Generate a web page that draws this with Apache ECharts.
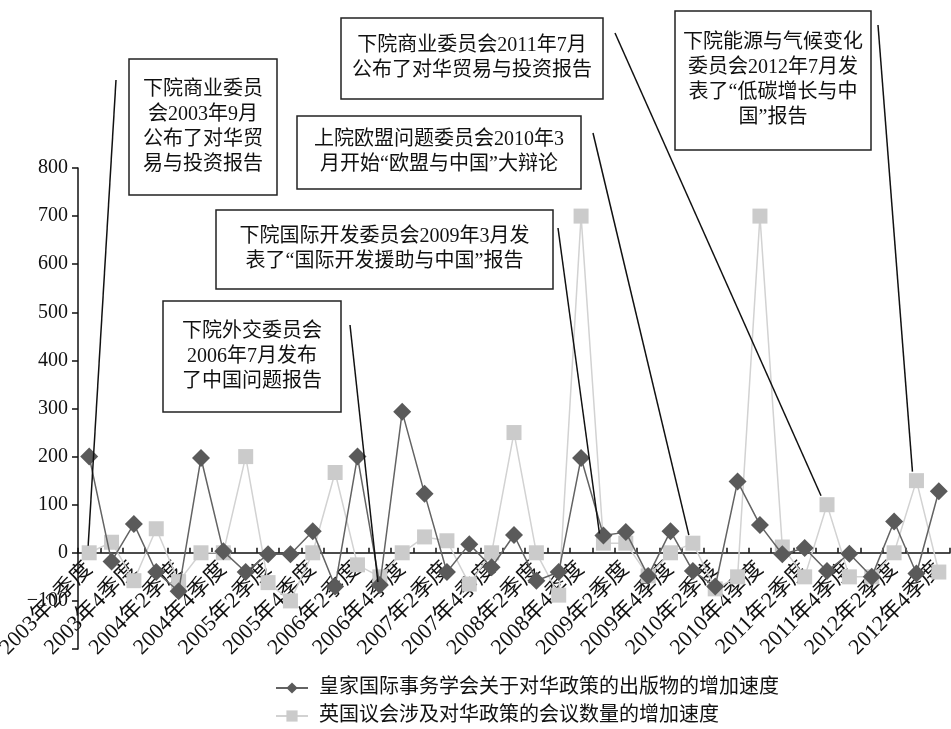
<!DOCTYPE html>
<html>
<head>
<meta charset="utf-8">
<script src="https://cdn.jsdelivr.net/npm/echarts@6/dist/echarts.min.js"></script>
<style>
html,body{margin:0;padding:0;background:#fff;}
#chart{width:951px;height:729px;}
</style>
</head>
<body>
<div id="chart"></div>
<script>
var categories = [
  '2003年2季度','2003年3季度','2003年4季度',
  '2004年1季度','2004年2季度','2004年3季度','2004年4季度',
  '2005年1季度','2005年2季度','2005年3季度','2005年4季度',
  '2006年1季度','2006年2季度','2006年3季度','2006年4季度',
  '2007年1季度','2007年2季度','2007年3季度','2007年4季度',
  '2008年1季度','2008年2季度','2008年3季度','2008年4季度',
  '2009年1季度','2009年2季度','2009年3季度','2009年4季度',
  '2010年1季度','2010年2季度','2010年3季度','2010年4季度',
  '2011年1季度','2011年2季度','2011年3季度','2011年4季度',
  '2012年1季度','2012年2季度','2012年3季度','2012年4季度'
];
var seriesNames = ['皇家国际事务学会关于对华政策的出版物的增加速度', '英国议会涉及对华政策的会议数量的增加速度'];
var pubGrowth = [200, -18, 60, -40, -80, 197, 3, -40, -3, -3, 45, -70, 200, -67, 293, 123, -40, 18, -30, 37, -58, -40, 197, 36, 43, -48, 45, -38, -70, 148, 58, -3, 10, -38, -2, -50, 65, -43, 128];
var meetGrowth = [0, 22, -58, 50, -60, 0, 0, 200, -62, -100, 0, 167, -25, -50, 0, 33, 25, -65, 0, 250, 0, -88, 700, 20, 20, -48, 0, 20, -75, -50, 700, 12, -50, 100, -50, -50, 0, 150, -40];
var yTicks = {min: -200, max: 800, step: 100};
var annotationTexts = [
  '下院商业委员\n会2003年9月\n公布了对华贸\n易与投资报告',
  '下院外交委员会\n2006年7月发布\n了中国问题报告',
  '下院国际开发委员会2009年3月发\n表了“国际开发援助与中国”报告',
  '上院欧盟问题委员会2010年3\n月开始“欧盟与中国”大辩论',
  '下院商业委员会2011年7月\n公布了对华贸易与投资报告',
  '下院能源与气候变化\n委员会2012年7月发\n表了“低碳增长与中\n国”报告'
];
// which point each annotation's leader line points to: [seriesIndex, categoryIndex]
var annotationTargets = [[1, 0], [0, 13], [0, 23], [1, 27], [1, 33], [1, 37]];

var FONT = '"Liberation Serif","Noto Sans CJK SC",serif';
var chart = echarts.init(document.getElementById('chart'));
var GRID = {left: 78, right: 1, top: 168, bottom: 80};

var option = {
  backgroundColor: '#fff',
  animation: false,
  grid: {left: GRID.left, right: GRID.right, top: GRID.top, bottom: GRID.bottom, containLabel: false, outerBoundsMode: 'none'},
  legend: {
    orient: 'vertical',
    left: 275, top: 678,
    padding: 0,
    itemGap: 8,
    itemWidth: 32, itemHeight: 14,
    data: seriesNames,
    textStyle: {fontFamily: FONT, fontSize: 20, lineHeight: 20, color: '#111', padding: [0, 0, 0, 6]}
  },
  xAxis: {
    type: 'category',
    data: categories,
    boundaryGap: true,
    offset: 0,
    axisLine: {onZero: false, lineStyle: {color: '#111', width: 1.5}},
    axisTick: {show: true, inside: true, length: 5, interval: 0, lineStyle: {color: '#111', width: 1.5}},
    axisLabel: {interval: 1, rotate: 45, margin: 13, fontFamily: FONT, fontSize: 22, color: '#111'},
    splitLine: {show: false}
  },
  yAxis: {
    type: 'value',
    min: yTicks.min, max: yTicks.max, interval: yTicks.step,
    axisLine: {show: true, onZero: false, lineStyle: {color: '#111', width: 1.5}},
    axisTick: {show: true, length: 6, lineStyle: {color: '#111', width: 1.5}},
    axisLabel: {
      margin: 10, fontFamily: FONT, fontSize: 20, color: '#111',
      formatter: function (v) { return v === yTicks.min ? '' : String(v).replace('-', '−'); }
    },
    splitLine: {show: false}
  },
  series: [
    {
      name: seriesNames[0], type: 'line', data: pubGrowth, z: 4,
      symbol: 'diamond', symbolSize: 18, showAllSymbol: true,
      itemStyle: {color: '#5a5a5a'},
      lineStyle: {color: '#636363', width: 1.5}
    },
    {
      name: seriesNames[1], type: 'line', data: meetGrowth, z: 3,
      symbol: 'rect', symbolSize: 15, showAllSymbol: true,
      itemStyle: {color: '#cbcbcb'},
      lineStyle: {color: '#d2d2d2', width: 1.5}
    }
  ]
};
chart.setOption(option);

// move the category axis (line, ticks, labels) up to the value 0 of the y scale
for (var k = 0; k < 3; k++) {
  var zeroY = chart.convertToPixel({yAxisIndex: 0}, 0);
  var bottomNow = chart.convertToPixel({yAxisIndex: 0}, yTicks.min);
  chart.setOption({xAxis: {offset: -(bottomNow - zeroY)}});
}

// Layout of the annotation boxes (pixels) and leader line starts
var boxLayout = [
  {x: 129, y: 59, w: 148, h: 136, sx: 116, sy: 80, dx: -1, dy: -7},
  {x: 163, y: 301, w: 178, h: 111, sx: 350, sy: 325, dx: -2, dy: -3},
  {x: 216, y: 210, w: 337, h: 79, sx: 558, sy: 228, dx: -4, dy: -2},
  {x: 297, y: 116, w: 284, h: 73, sx: 593, sy: 133, dx: -4, dy: -8},
  {x: 341, y: 18, w: 262, h: 81, sx: 615, sy: 33, dx: -6, dy: -9},
  {x: 675, y: 11, w: 196, h: 139, sx: 878, sy: 25, dx: -4, dy: -9}
];
var graphics = [];
annotationTexts.forEach(function (txt, i) {
  var b = boxLayout[i];
  var t = annotationTargets[i];
  var p = chart.convertToPixel({seriesIndex: t[0]}, [t[1], (t[0] === 0 ? pubGrowth : meetGrowth)[t[1]]]);
  graphics.push({
    type: 'line', z: 100,
    shape: {x1: b.sx, y1: b.sy, x2: p[0] + b.dx, y2: p[1] + b.dy},
    style: {stroke: '#111', lineWidth: 1.5}
  });
  graphics.push({
    type: 'rect', z: 101,
    shape: {x: b.x, y: b.y, width: b.w, height: b.h},
    style: {fill: '#fff', stroke: '#222', lineWidth: 1.5}
  });
  graphics.push({
    type: 'text', z: 102,
    x: b.x + b.w / 2, y: b.y + b.h / 2,
    style: {
      text: txt, fontFamily: FONT, fontSize: 20, lineHeight: 25,
      align: 'center', verticalAlign: 'middle', fill: '#111'
    }
  });
});
chart.setOption({graphic: graphics});
</script>
</body>
</html>
